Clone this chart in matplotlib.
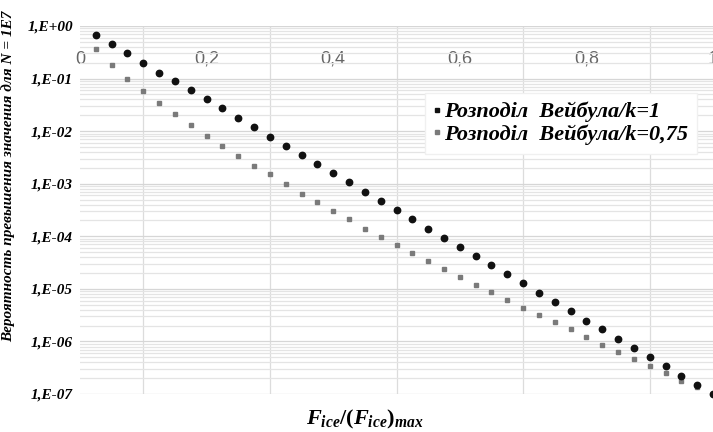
import numpy as np
import matplotlib.pyplot as plt
from matplotlib.lines import Line2D

plt.rcParams['mathtext.fontset'] = 'custom'
plt.rcParams['mathtext.it'] = 'Liberation Serif:italic:bold'
plt.rcParams['mathtext.rm'] = 'Liberation Serif:bold'

# F_ice/(F_ice)_max, step 0.025
x_vals = [0.025 * i for i in range(1, 41)]

# Weibull k = 1
p_k1 = [6.7e-01, 4.5e-01, 3.0e-01, 2.0e-01, 1.3e-01, 8.9e-02, 6.0e-02, 4.0e-02,
        2.7e-02, 1.8e-02, 1.2e-02, 7.9e-03, 5.3e-03, 3.5e-03, 2.4e-03, 1.6e-03,
        1.1e-03, 7.1e-04, 4.7e-04, 3.2e-04, 2.1e-04, 1.4e-04, 9.4e-05, 6.3e-05,
        4.2e-05, 2.8e-05, 1.9e-05, 1.3e-05, 8.4e-06, 5.6e-06, 3.8e-06, 2.5e-06,
        1.7e-06, 1.1e-06, 7.5e-07, 5.0e-07, 3.4e-07, 2.2e-07, 1.5e-07, 1.0e-07]

# Weibull k = 0.75
p_k075 = [3.6e-01, 1.8e-01, 9.9e-02, 5.7e-02, 3.4e-02, 2.1e-02, 1.3e-02, 8.1e-03,
          5.2e-03, 3.4e-03, 2.2e-03, 1.5e-03, 9.7e-04, 6.5e-04, 4.4e-04, 3.0e-04,
          2.1e-04, 1.4e-04, 9.9e-05, 6.9e-05, 4.8e-05, 3.4e-05, 2.4e-05, 1.7e-05,
          1.2e-05, 8.6e-06, 6.2e-06, 4.4e-06, 3.2e-06, 2.3e-06, 1.7e-06, 1.2e-06,
          8.7e-07, 6.4e-07, 4.7e-07, 3.4e-07, 2.5e-07, 1.8e-07, 1.35e-07, 1.0e-07]

x_ticks = [0, 0.2, 0.4, 0.6, 0.8, 1.0]
x_tick_labels = ['0', '0,2', '0,4', '0,6', '0,8', '1']
y_ticks = [1e-7, 1e-6, 1e-5, 1e-4, 1e-3, 1e-2, 1e-1, 1e0]
y_tick_labels = ['1,E-07', '1,E-06', '1,E-05', '1,E-04', '1,E-03', '1,E-02', '1,E-01', '1,E+00']

serif_bi = dict(family='Liberation Serif', weight='bold', style='italic')

fig = plt.figure(figsize=(7.13, 4.32), dpi=100)
ax = fig.add_axes([80/713, 1 - 394/432, 633/713, 368/432])

ax.set_yscale('log')
ax.set_xlim(0, 1.0)
ax.set_ylim(1e-7, 1)

# grid
ax.set_xticks(np.arange(0, 1.01, 0.1), minor=True)
ax.grid(True, which='minor', axis='x', color='#dcdcdc', lw=0.9)
ax.grid(True, which='major', axis='y', color='#d6d6d6', lw=0.9)
ax.grid(True, which='minor', axis='y', color='#e4e4e4', lw=0.9)
ax.set_axisbelow(True)
for s in ax.spines.values():
    s.set_visible(False)

ax.plot(x_vals, p_k075, ls='none', marker='s', ms=3.4, color='#7a7a7a', clip_on=False)
ax.plot(x_vals, p_k1, ls='none', marker='o', ms=4.6, color='#111111', clip_on=False)

ax.set_xticks(x_ticks)
ax.set_xticklabels(x_tick_labels)
ax.tick_params(axis='x', which='both', bottom=False, top=False, labelbottom=False,
               labeltop=True, length=0, pad=-30, labelsize=13, labelcolor='#666666')
for lab in ax.get_xticklabels():
    lab.set_family('Liberation Sans')

ax.set_yticks(y_ticks)
ax.set_yticklabels(y_tick_labels)
ax.tick_params(axis='y', which='both', length=0, pad=5)
for lab in ax.get_yticklabels():
    lab.set_fontproperties(dict(serif_bi, size=11))

ax.set_ylabel('Вероятность превышения значения для N = 1E7', fontsize=11, **serif_bi)
ax.yaxis.set_label_coords(-0.103, 0.592)
ax.set_xlabel(r'$F_{ice}/(F_{ice})_{max}$', fontsize=16)
ax.xaxis.set_label_coords(0.45, -0.038)

handles = [
    Line2D([], [], ls='none', marker='s', ms=2.5, color='#111111'),
    Line2D([], [], ls='none', marker='s', ms=2.5, color='#7a7a7a'),
]
leg = ax.legend(handles, ['Розподіл  Вейбула/k=1', 'Розподіл  Вейбула/k=0,75'],
                loc='upper left', bbox_to_anchor=(0.545, 0.818), handlelength=0.3,
                handletextpad=0.15, borderpad=0.4, labelspacing=0.1,
                prop=dict(serif_bi, size=16), fancybox=False, framealpha=1,
                edgecolor='#f0f0f0', borderaxespad=0)

fig.savefig('out.png', dpi=100)
